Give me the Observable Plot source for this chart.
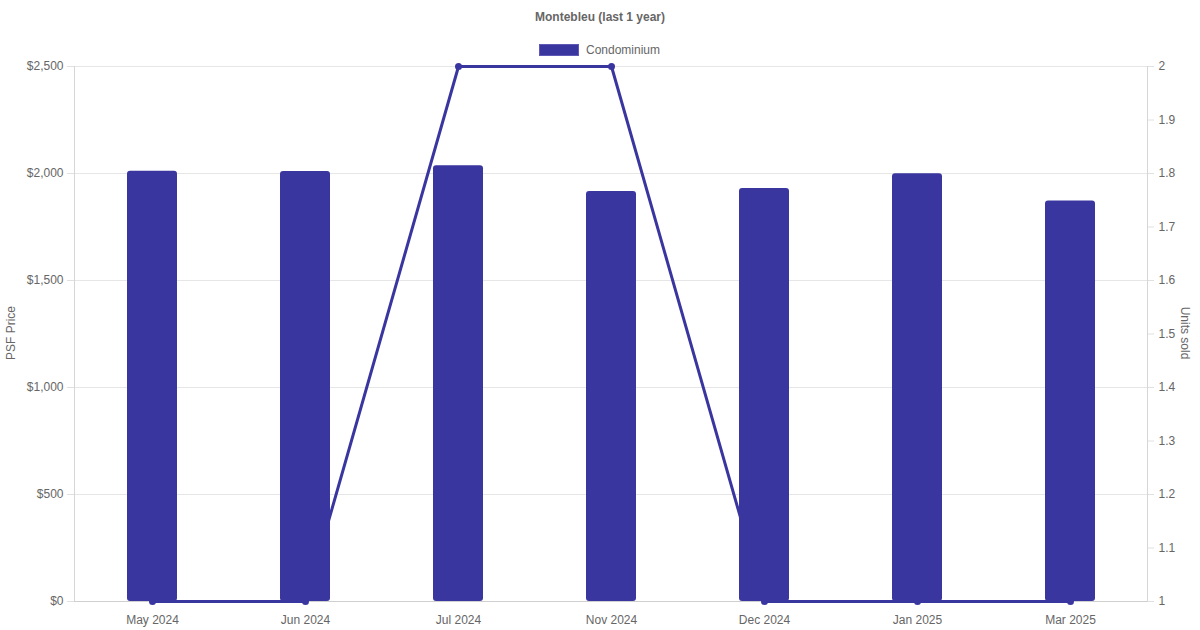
<!DOCTYPE html>
<html><head><meta charset="utf-8">
<script src="https://cdn.jsdelivr.net/npm/d3@7"></script>
<script src="https://cdn.jsdelivr.net/npm/@observablehq/plot@0.6"></script>
<style>
body{margin:0;background:#fff;font-family:"Liberation Sans",Arial,sans-serif;}
#wrap{position:relative;width:1200px;height:630px;overflow:hidden;}
#title{position:absolute;left:0;width:1200px;top:10px;text-align:center;font-weight:bold;font-size:12px;color:#666;line-height:14px;}
#legend{position:absolute;left:539px;top:43px;font-size:12px;color:#666;line-height:14px;display:flex;align-items:center;}
#legend .sw{display:inline-block;width:38px;height:10px;background:#3a36a0;border:1px solid #5d59b5;margin-right:7px;}
.ylab{position:absolute;font-size:12px;color:#666;white-space:nowrap;line-height:14px;}
#chart{position:absolute;left:0;top:0;}
</style></head><body>
<div id="wrap">
<div id="chart"></div>
<div id="title">Montebleu (last 1 year)</div>
<div id="legend"><span class="sw"></span>Condominium</div>
<div class="ylab" id="ylL" style="left:-16px;top:326px;transform:rotate(-90deg);">PSF Price</div>
<div class="ylab" id="ylR" style="left:1159px;top:326px;transform:rotate(90deg);">Units sold</div>
</div>
<script>
const months = ["May 2024","Jun 2024","Jul 2024","Nov 2024","Dec 2024","Jan 2025","Mar 2025"];
const psfPrice = [2011, 2009, 2036, 1916, 1930, 1999, 1871];
const unitsSold = [1, 1, 2, 2, 1, 1, 1];
const priceTicks = [0, 500, 1000, 1500, 2000, 2500];
const unitTicks = [1, 1.1, 1.2, 1.3, 1.4, 1.5, 1.6, 1.7, 1.8, 1.9, 2];

const color = "#3a36a0";
const priceMax = 2500, unitMin = 1, unitMax = 2;
const toPrice = u => (u - unitMin) / (unitMax - unitMin) * priceMax;
const toUnits = p => p / priceMax * (unitMax - unitMin) + unitMin;

const data = months.map((m, i) => ({month: m, psf: psfPrice[i], units: unitsSold[i]}));

const chart = Plot.plot({
  width: 1200,
  height: 630,
  marginLeft: 74,
  marginRight: 53,
  marginTop: 66,
  marginBottom: 29,
  style: {fontFamily: "Liberation Sans, Arial, sans-serif", fontSize: "12px", color: "#666", background: "#fff"},
  x: {type: "band", domain: months, paddingInner: 0.674, paddingOuter: 0.337, align: 0.5, label: null},
  y: {domain: [0, priceMax], nice: false, label: null},
  marks: [
    Plot.gridY(priceTicks, {stroke: "#e6e6e6", strokeOpacity: 1}),
    Plot.axisY(priceTicks, {anchor: "left", tickFormat: d => "$" + d3.format(",")(d), tickSize: 7, tickPadding: 4, stroke: "#e0e0e0", color: "#666", fill: "#666", fontSize: 12, label: null}),
    Plot.axisY(unitTicks.map(toPrice), {anchor: "right", tickFormat: d => d3.format("~g")(+toUnits(d).toFixed(1)), tickSize: 6, tickPadding: 5, stroke: "#e0e0e0", fill: "#666", fontSize: 12, label: null}),
    Plot.axisX({anchor: "bottom", tickSize: 0, tickPadding: 14, fill: "#666", fontSize: 12, label: null}),
    Plot.frame({anchor: "left", stroke: "#d6d6d6"}),
    Plot.frame({anchor: "right", stroke: "#d6d6d6"}),
    Plot.ruleY([0], {stroke: "#cfcfcf"}),
    Plot.line(data, {x: "month", y: d => toPrice(d.units), stroke: color, strokeWidth: 3}),
    Plot.dot(data, {x: "month", y: d => toPrice(d.units), r: 3.5, fill: color, stroke: "none"}),
    Plot.barY(data, {x: "month", y: "psf", fill: color, rx: 3})
  ]
});
document.getElementById("chart").appendChild(chart);
</script>
</body></html>
